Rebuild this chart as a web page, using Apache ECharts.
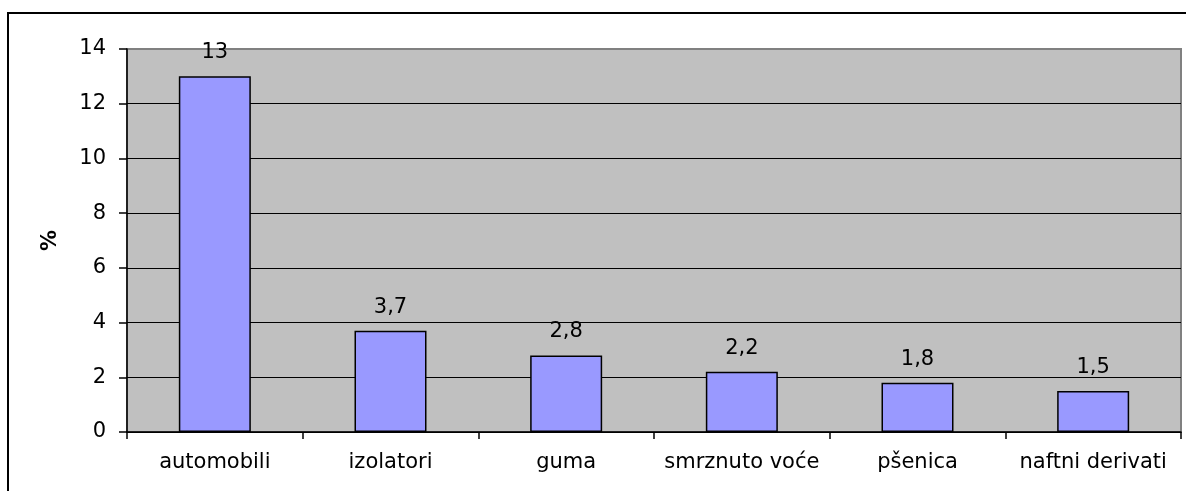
<!DOCTYPE html>
<html>
<head>
<meta charset="utf-8">
<script src="https://cdn.jsdelivr.net/npm/echarts@6/dist/echarts.min.js"></script>
<style>
html,body{margin:0;padding:0;background:#fff;}
#c{width:1186px;height:491px;}
</style>
</head>
<body>
<div id="c"></div>
<script>
const categories = ['automobili', 'izolatori', 'guma', 'smrznuto voće', 'pšenica', 'naftni derivati'];
const values = [13, 3.7, 2.8, 2.2, 1.8, 1.5];
const valueLabels = ['13', '3,7', '2,8', '2,2', '1,8', '1,5'];
const yAxisName = '%';

const FONT = 'DejaVu Sans';
const chart = echarts.init(document.getElementById('c'), null, {renderer: 'canvas'});
chart.setOption({
  animation: false,
  backgroundColor: '#ffffff',
  graphic: [{
    type: 'rect',
    shape: {x: 8, y: 13, width: 1300, height: 600},
    style: {fill: 'none', stroke: '#000', lineWidth: 2},
    silent: true,
    z: 100
  }],
  grid: {
    left: 127, right: 5, top: 49, bottom: 59,
    show: true,
    backgroundColor: '#C0C0C0',
    borderColor: '#808080',
    borderWidth: 2
  },
  xAxis: {
    type: 'category',
    data: categories,
    axisLine: {lineStyle: {color: '#000', width: 1.5}},
    axisTick: {show: true, interval: 0, length: 7, lineStyle: {color: '#000', width: 1.5}},
    axisLabel: {color: '#000', fontFamily: FONT, fontSize: 21, margin: 20, interval: 0, hideOverlap: false}
  },
  yAxis: {
    type: 'value',
    min: 0, max: 14, interval: 2,
    name: yAxisName,
    nameLocation: 'middle',
    nameRotate: 90,
    nameGap: 66,
    nameTextStyle: {color: '#000', fontFamily: FONT, fontSize: 21, fontWeight: 'bold'},
    axisLine: {show: true, lineStyle: {color: '#000', width: 1.5}},
    axisTick: {show: true, length: 8, lineStyle: {color: '#000', width: 1.5}},
    axisLabel: {color: '#000', fontFamily: FONT, fontSize: 21, margin: 21},
    splitLine: {show: true, showMaxLine: false, lineStyle: {color: '#000', width: 1.2}}
  },
  series: [{
    type: 'bar',
    data: values,
    barWidth: 72,
    itemStyle: {color: '#9999FF', borderColor: '#000', borderWidth: 1.5},
    label: {
      show: true,
      position: 'top',
      distance: 13,
      color: '#000',
      fontFamily: FONT,
      fontSize: 21,
      formatter: p => valueLabels[p.dataIndex]
    }
  }]
});
</script>
</body>
</html>
